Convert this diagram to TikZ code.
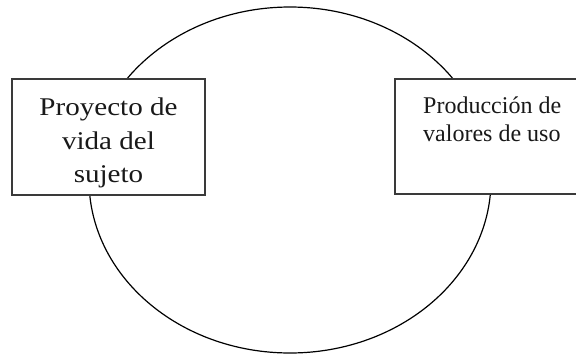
\documentclass[tikz,border=0pt]{standalone}
\usepackage{fontspec}
\setmainfont{Liberation Serif}
\newfontfamily\leftfont[FakeStretch=1.14]{Liberation Serif}
\usetikzlibrary{shapes.geometric}
\definecolor{boxline}{HTML}{3A3A3A}
\tikzset{
  boxnode/.style={draw=boxline, line width=1.5pt, fill=white, rectangle, inner sep=0pt},
  ring/.style={draw=black, line width=1.2pt, ellipse, inner sep=0pt},
  lefttxt/.style={font=\leftfont\fontsize{25.5}{30}\selectfont, inner sep=0pt, anchor=base, text=black!90},
  righttxt/.style={font=\fontsize{24}{28}\selectfont, inner sep=0pt, anchor=base west, text=black!90}
}
\begin{document}
\begin{tikzpicture}[x=1pt,y=-1pt]
\useasboundingbox (0,0) rectangle (576,354);
\clip (0,0) rectangle (576,354);
\node[ring, minimum width=402pt, minimum height=346pt] (ciclo) at (290,180) {};
\node[boxnode, minimum width=193pt, minimum height=116pt] (proy) at (108.5,137) {};
\node[boxnode, minimum width=200pt, minimum height=115pt] (prod) at (495,136.5) {};
\node[lefttxt] (p1) at (108.5,115) {Proyecto de};
\node[lefttxt] (p2) at (108.5,149) {vida del};
\node[lefttxt] (p3) at (108.5,182) {sujeto};
\node[righttxt] (r1) at (423,113) {Producción de};
\node[righttxt] (r2) at (423,141) {valores de uso};
\end{tikzpicture}
\end{document}
